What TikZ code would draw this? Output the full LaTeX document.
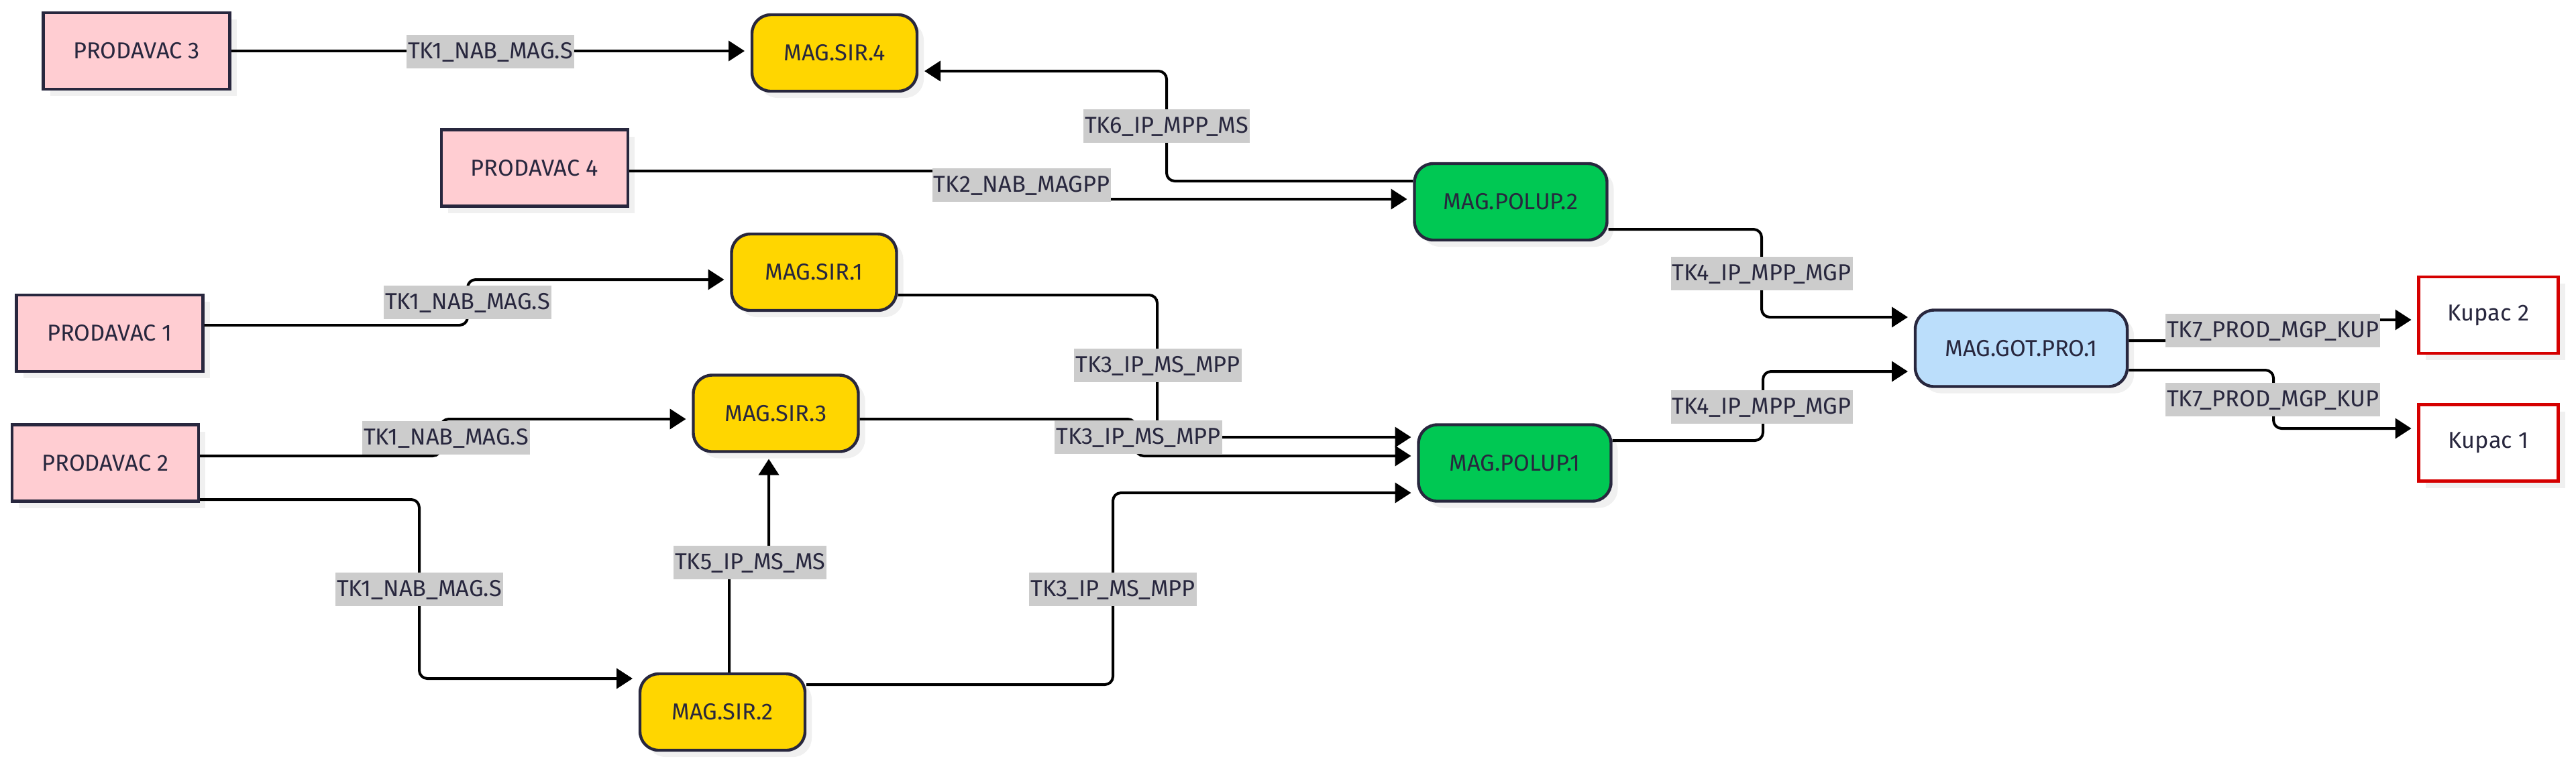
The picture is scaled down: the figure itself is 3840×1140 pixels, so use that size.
\documentclass[tikz,border=0pt]{standalone}
\usepackage{fontspec}
\setmainfont{Fira Sans}
\usepackage{tikz}
\usetikzlibrary{positioning,arrows.meta,shadows}

\definecolor{pinkc}{RGB}{255,205,210}
\definecolor{yellowc}{RGB}{255,214,0}
\definecolor{greenc}{RGB}{0,200,83}
\definecolor{bluec}{RGB}{187,222,251}
\definecolor{redc}{RGB}{213,0,0}
\definecolor{edgec}{RGB}{40,39,62}
\definecolor{inkc}{RGB}{40,39,62}
\definecolor{lblc}{RGB}{204,204,204}
\definecolor{shadowc}{RGB}{240,240,240}

\begin{document}
\begin{tikzpicture}[x=0.25pt,y=0.25pt,yscale=-1,xscale=1,
  every node/.style={font=\fontsize{8.6}{10}\selectfont, text=inkc},
  boxbase/.style={draw=edgec, line width=1.1pt, minimum height=28.5pt, inner sep=0pt,
    drop shadow={shadow xshift=2.5pt, shadow yshift=-2.5pt, fill=shadowc, opacity=1}},
  seller/.style={boxbase, fill=pinkc, minimum width=69.5pt},
  store/.style={boxbase, fill=yellowc, rounded corners=7pt, minimum width=61.5pt},
  collect/.style={boxbase, fill=greenc, rounded corners=7pt, minimum width=71.75pt},
  finished/.style={boxbase, fill=bluec, rounded corners=7pt, minimum width=79pt},
  buyer/.style={boxbase, draw=redc, fill=white, minimum width=52pt},
  flow/.style={line width=1pt, rounded corners=3pt, shorten >=2.2pt,
    -{Triangle[length=6pt,width=7.5pt]}},
  lbl/.style={fill=lblc, inner xsep=0.5pt, inner ysep=2.9pt, text height=5.9pt, text depth=0.8pt}
]
\useasboundingbox (0,0) rectangle (3840,1140);

%Shape: Rectangle (sellers)
\node[seller] (prod3) at (203.5,76) {PRODAVAC 3};
\node[seller] (prod4) at (797,250.5) {PRODAVAC 4};
\node[seller] (prod1) at (163.5,497) {PRODAVAC 1};
\node[seller] (prod2) at (157,690.5) {PRODAVAC 2};

%Shape: Rounded Rect (stores)
\node[store] (sir4) at (1244,79) {MAG.SIR.4};
\node[store] (sir1) at (1213.5,406) {MAG.SIR.1};
\node[store] (sir3) at (1156.5,616.5) {MAG.SIR.3};
\node[store] (sir2) at (1077,1062) {MAG.SIR.2};

%Shape: Rounded Rect (collecting)
\node[collect] (polup2) at (2252,301) {MAG.POLUP.2};
\node[collect] (polup1) at (2258,690.5) {MAG.POLUP.1};

%Shape: Rounded Rect (finished goods)
\node[finished] (gotpro) at (3013,519.5) {MAG.GOT.PRO.1};

%Shape: Rectangle (buyers)
\node[buyer] (kupac2) at (3709.5,470) {Kupac 2};
\node[buyer] (kupac1) at (3709.5,660.5) {Kupac 1};

%Straight Lines
\draw[flow] (prod3.east) -- (prod3.east -| sir4.west);
\draw[flow] (prod4.east |- 0,255) -- (1523,255) -- (1523,297) -- (polup2.west |- 0,297);
\draw[flow] (polup2.west |- 0,270) -- (1739,270) -- (1739,106) -- (sir4.east |- 0,106);
\draw[flow] (prod1.east |- 0,485) -- (697,485) -- (697,417) -- (sir1.west |- 0,417);
\draw[flow] (prod2.east |- 0,680) -- (657,680) -- (657,625) -- (sir3.west |- 0,625);
\draw[flow] (prod2.east |- 0,745) -- (625,745) -- (625,1012) -- (sir2.west |- 0,1012);
\draw[flow] (sir2.north -| 1087,0) -- (1087,839) -- (1146,839) -- (sir3.south -| 1146,0);
\draw[flow] (sir1.east |- 0,440) -- (1725,440) -- (1725,652) -- (polup1.west |- 0,652);
\draw[flow] (sir3.east |- 0,625) -- (1693,625) -- (1693,680) -- (polup1.west |- 0,680);
\draw[flow] (sir2.east |- 0,1021) -- (1659,1021) -- (1659,735) -- (polup1.west |- 0,735);
\draw[flow] (polup2.east |- 0,342) -- (2626,342) -- (2626,473) -- (gotpro.west |- 0,473);
\draw[flow] (polup1.east |- 0,657) -- (2628,657) -- (2628,554) -- (gotpro.west |- 0,554);
\draw[flow] (gotpro.east |- 0,508) -- (3388,508) -- (3388,477) -- (kupac2.west |- 0,477);
\draw[flow] (gotpro.east |- 0,552) -- (3389,552) -- (3389,639) -- (kupac1.west |- 0,639);

%Labels
\node[lbl] (t1a) at (731,77) {TK1\_NAB\_MAG.S};
\node[lbl] (t2) at (1523,276) {TK2\_NAB\_MAGPP};
\node[lbl] (t6) at (1739,188) {TK6\_IP\_MPP\_MS};
\node[lbl] (t1b) at (697,451) {TK1\_NAB\_MAG.S};
\node[lbl] (t1c) at (665,653) {TK1\_NAB\_MAG.S};
\node[lbl] (t1d) at (625,879) {TK1\_NAB\_MAG.S};
\node[lbl] (t5) at (1118,839) {TK5\_IP\_MS\_MS};
\node[lbl] (t3a) at (1726,545) {TK3\_IP\_MS\_MPP};
\node[lbl] (t3b) at (1697,652) {TK3\_IP\_MS\_MPP};
\node[lbl] (t3c) at (1659,879) {TK3\_IP\_MS\_MPP};
\node[lbl] (t4a) at (2626,408) {TK4\_IP\_MPP\_MGP};
\node[lbl] (t4b) at (2626,607) {TK4\_IP\_MPP\_MGP};
\node[lbl] (t7a) at (3388,493) {TK7\_PROD\_MGP\_KUP};
\node[lbl] (t7b) at (3388,596) {TK7\_PROD\_MGP\_KUP};

\end{tikzpicture}
\end{document}
